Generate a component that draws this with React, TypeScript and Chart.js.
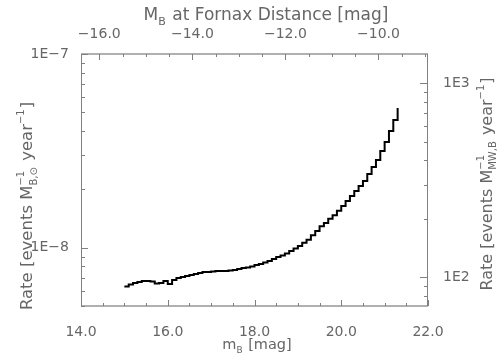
import React, { useEffect, useRef } from 'react';
import { Chart, registerables } from 'chart.js';

Chart.register(...registerables);

// ---- data ----
const magnitudes = [
  15.0, 15.1, 15.2, 15.3, 15.4, 15.5, 15.6, 15.7, 15.8, 15.9,
  16.0, 16.1, 16.2, 16.3, 16.4, 16.5, 16.6, 16.7, 16.8, 16.9,
  17.0, 17.1, 17.2, 17.3, 17.4, 17.5, 17.6, 17.7, 17.8, 17.9,
  18.0, 18.1, 18.2, 18.3, 18.4, 18.5, 18.6, 18.7, 18.8, 18.9,
  19.0, 19.1, 19.2, 19.3, 19.4, 19.5, 19.6, 19.7, 19.8, 19.9,
  20.0, 20.1, 20.2, 20.3, 20.4, 20.5, 20.6, 20.7, 20.8, 20.9,
  21.0, 21.1, 21.2, 21.3,
];
const rates = [
  6.30e-9, 6.46e-9, 6.57e-9, 6.65e-9, 6.73e-9, 6.73e-9, 6.69e-9, 6.54e-9, 6.57e-9, 6.73e-9,
  6.50e-9, 6.81e-9, 6.98e-9, 7.06e-9, 7.14e-9, 7.23e-9, 7.32e-9, 7.40e-9, 7.49e-9, 7.49e-9,
  7.54e-9, 7.58e-9, 7.58e-9, 7.58e-9, 7.63e-9, 7.67e-9, 7.76e-9, 7.86e-9, 7.90e-9, 8.00e-9,
  8.14e-9, 8.24e-9, 8.39e-9, 8.54e-9, 8.74e-9, 8.95e-9, 9.12e-9, 9.33e-9, 9.62e-9, 9.91e-9,
  1.02e-8, 1.06e-8, 1.10e-8, 1.16e-8, 1.22e-8, 1.29e-8, 1.34e-8, 1.41e-8, 1.47e-8, 1.55e-8,
  1.64e-8, 1.74e-8, 1.85e-8, 1.96e-8, 2.08e-8, 2.21e-8, 2.40e-8, 2.61e-8, 2.84e-8, 3.16e-8,
  3.51e-8, 4.00e-8, 4.56e-8, 5.26e-8,
];

const bottomTicks = [14, 16, 18, 20, 22];
const topTicks = [-16, -14, -12, -10];
const leftTicks = [1e-8, 1e-7];
const rightTicks = [100, 1000];

const X_MIN = 14, X_MAX = 22;
const TOP_MIN = -16.393, TOP_MAX = -8.936;
const LEFT_MIN = 5.0e-9, LEFT_MAX = 1e-7;
const RIGHT_MIN = 70.83, RIGHT_MAX = 1416.6;

const FONT = '"DejaVu Sans", sans-serif';
const TEXT = '#666666';

type Seg = { t?: string; sub?: string; sup?: string };

function segWidth(ctx: CanvasRenderingContext2D, s: Seg, size: number) {
  if (s.t !== undefined) {
    ctx.font = `${size}px ${FONT}`;
    return ctx.measureText(s.t).width;
  }
  ctx.font = `${Math.round(size * 0.62)}px ${FONT}`;
  return Math.max(s.sub ? ctx.measureText(s.sub).width : 0, s.sup ? ctx.measureText(s.sup).width : 0) + 1;
}

function drawRich(ctx: CanvasRenderingContext2D, segs: Seg[], cx: number, baseY: number, size: number) {
  const total = segs.reduce((a, s) => a + segWidth(ctx, s, size), 0);
  let x = cx - total / 2;
  ctx.textAlign = 'left';
  ctx.textBaseline = 'alphabetic';
  for (const s of segs) {
    const w = segWidth(ctx, s, size);
    if (s.t !== undefined) {
      ctx.font = `${size}px ${FONT}`;
      ctx.fillText(s.t, x, baseY);
    } else {
      ctx.font = `${Math.round(size * 0.62)}px ${FONT}`;
      if (s.sub) ctx.fillText(s.sub, x, baseY + size * 0.28);
      if (s.sup) ctx.fillText(s.sup, x, baseY - size * 0.5);
    }
    x += w;
  }
}

const topTitle: Seg[] = [{ t: 'M' }, { sub: 'B' }, { t: ' at Fornax Distance [mag]' }];
const bottomTitle: Seg[] = [{ t: 'm' }, { sub: 'B' }, { t: ' [mag]' }];
const leftTitle: Seg[] = [{ t: 'Rate [events M' }, { sub: 'B,\u2299', sup: '\u22121' }, { t: ' year' }, { sup: '\u22121' }, { t: ']' }];
const rightTitle: Seg[] = [{ t: 'Rate [events M' }, { sub: 'MW,B', sup: '\u22121' }, { t: ' year' }, { sup: '\u22121' }, { t: ']' }];

function logMinorValues(min: number, max: number) {
  const out: { v: number; major: boolean }[] = [];
  const e0 = Math.floor(Math.log10(min));
  const e1 = Math.ceil(Math.log10(max));
  for (let e = e0; e <= e1; e++) {
    for (let m = 1; m <= 9; m++) {
      const v = m * Math.pow(10, e);
      if (v >= min * 0.9999 && v <= max * 1.0001) out.push({ v, major: m === 1 });
    }
  }
  return out;
}

const framePlugin = {
  id: 'framePlugin',
  afterDraw(chart: any) {
    const ctx: CanvasRenderingContext2D = chart.ctx;
    const { left, right, top, bottom } = chart.chartArea;
    const sx = chart.scales.x, sx2 = chart.scales.x2, sy = chart.scales.y, sy2 = chart.scales.y2;
    const line = (x1: number, y1: number, x2: number, y2: number) => {
      ctx.beginPath(); ctx.moveTo(x1, y1); ctx.lineTo(x2, y2); ctx.stroke();
    };
    ctx.save();
    // frame
    ctx.strokeStyle = '#b0b0b0';
    ctx.lineWidth = 2;
    line(left, top, right, top);
    line(left, bottom, right, bottom);
    ctx.strokeStyle = '#808080';
    ctx.lineWidth = 1;
    line(left + 0.5, top, left + 0.5, bottom);
    line(right - 0.5, top, right - 0.5, bottom);

    // bottom ticks (every 0.5)
    for (let i = 0; i <= (X_MAX - X_MIN) * 2; i++) {
      const v = X_MIN + i * 0.5;
      const px = Math.round(sx.getPixelForValue(v)) + 0.5;
      const major = Math.abs(v % 2) < 1e-6;
      line(px, bottom, px, bottom - (major ? 6 : 3));
    }
    // top ticks (every 0.5)
    for (let v = -16.0; v <= TOP_MAX + 1e-9; v += 0.5) {
      const px = Math.round(sx2.getPixelForValue(v)) + 0.5;
      const major = Math.abs(v % 2) < 1e-6;
      line(px, top, px, top + (major ? 6 : 3));
    }
    // left ticks
    for (const t of logMinorValues(LEFT_MIN, LEFT_MAX)) {
      const py = Math.round(sy.getPixelForValue(t.v)) + 0.5;
      line(left, py, left + (t.major ? 7 : 4), py);
    }
    // right ticks
    for (const t of logMinorValues(RIGHT_MIN, RIGHT_MAX)) {
      const py = Math.round(sy2.getPixelForValue(t.v)) + 0.5;
      line(right, py, right - (t.major ? 8 : 4), py);
    }

    // titles
    ctx.fillStyle = TEXT;
    drawRich(ctx, topTitle, 266, 20, 17);
    drawRich(ctx, bottomTitle, 257, 349, 14.5);
    ctx.save();
    ctx.translate(32, 206);
    ctx.rotate(-Math.PI / 2);
    drawRich(ctx, leftTitle, 0, 0, 16.5);
    ctx.restore();
    ctx.save();
    ctx.translate(492, 184);
    ctx.rotate(-Math.PI / 2);
    drawRich(ctx, rightTitle, 0, 0, 16);
    ctx.restore();
    ctx.restore();
  },
};

const expLabel = (v: number) => {
  const e = Math.round(Math.log10(v));
  return '1E' + (e < 0 ? '\u2212' + -e : String(e));
};

export default function App() {
  const ref = useRef<HTMLCanvasElement | null>(null);
  useEffect(() => {
    if (!ref.current) return;
    const tickFont = { family: FONT, size: 14 };
    const chart = new Chart(ref.current, {
      type: 'line',
      data: {
        datasets: [
          {
            data: magnitudes.map((m, i) => ({ x: m, y: rates[i] })),
            borderColor: '#000000',
            borderWidth: 2,
            pointRadius: 0,
            stepped: 'before',
            fill: false,
            xAxisID: 'x',
            yAxisID: 'y',
          },
        ],
      },
      options: {
        responsive: false,
        animation: false,
        layout: { padding: 0 },
        plugins: { legend: { display: false }, tooltip: { enabled: false } },
        scales: {
          x: {
            type: 'linear', position: 'bottom', min: X_MIN, max: X_MAX,
            grid: { display: false }, border: { display: false },
            ticks: { autoSkip: false, maxRotation: 0, padding: 10, color: TEXT, font: tickFont,
              callback: (v: any) => Number(v).toFixed(1) },
            afterBuildTicks: (s: any) => { s.ticks = bottomTicks.map((v) => ({ value: v })); },
            afterFit: (s: any) => { s.height = 54; },
          },
          x2: {
            type: 'linear', position: 'top', min: TOP_MIN, max: TOP_MAX,
            grid: { display: false }, border: { display: false },
            ticks: { autoSkip: false, maxRotation: 0, padding: 3, color: TEXT, font: tickFont,
              callback: (v: any) => Number(v).toFixed(1).replace('-', '\u2212') },
            afterBuildTicks: (s: any) => { s.ticks = topTicks.map((v) => ({ value: v })); },
            afterFit: (s: any) => { s.height = 54; },
          },
          y: {
            type: 'logarithmic', position: 'left', min: LEFT_MIN, max: LEFT_MAX,
            grid: { display: false }, border: { display: false },
            ticks: { autoSkip: false, padding: 4, color: TEXT, font: tickFont,
              callback: (v: any) => expLabel(Number(v)) },
            afterBuildTicks: (s: any) => { s.ticks = leftTicks.map((v) => ({ value: v })); },
            afterFit: (s: any) => { s.width = 81; },
          },
          y2: {
            type: 'logarithmic', position: 'right', min: RIGHT_MIN, max: RIGHT_MAX,
            grid: { display: false }, border: { display: false },
            ticks: { autoSkip: false, padding: 7, color: TEXT, font: tickFont,
              callback: (v: any) => expLabel(Number(v)) },
            afterBuildTicks: (s: any) => { s.ticks = rightTicks.map((v) => ({ value: v })); },
            afterFit: (s: any) => { s.width = 76; },
          },
        },
      } as any,
      plugins: [framePlugin],
    });
    return () => chart.destroy();
  }, []);
  return (
    <div style={{ position: 'absolute', left: 0, top: 0, width: 504, height: 360, background: '#fff' }}>
      <canvas ref={ref} width={504} height={360} style={{ display: 'block' }} />
    </div>
  );
}
